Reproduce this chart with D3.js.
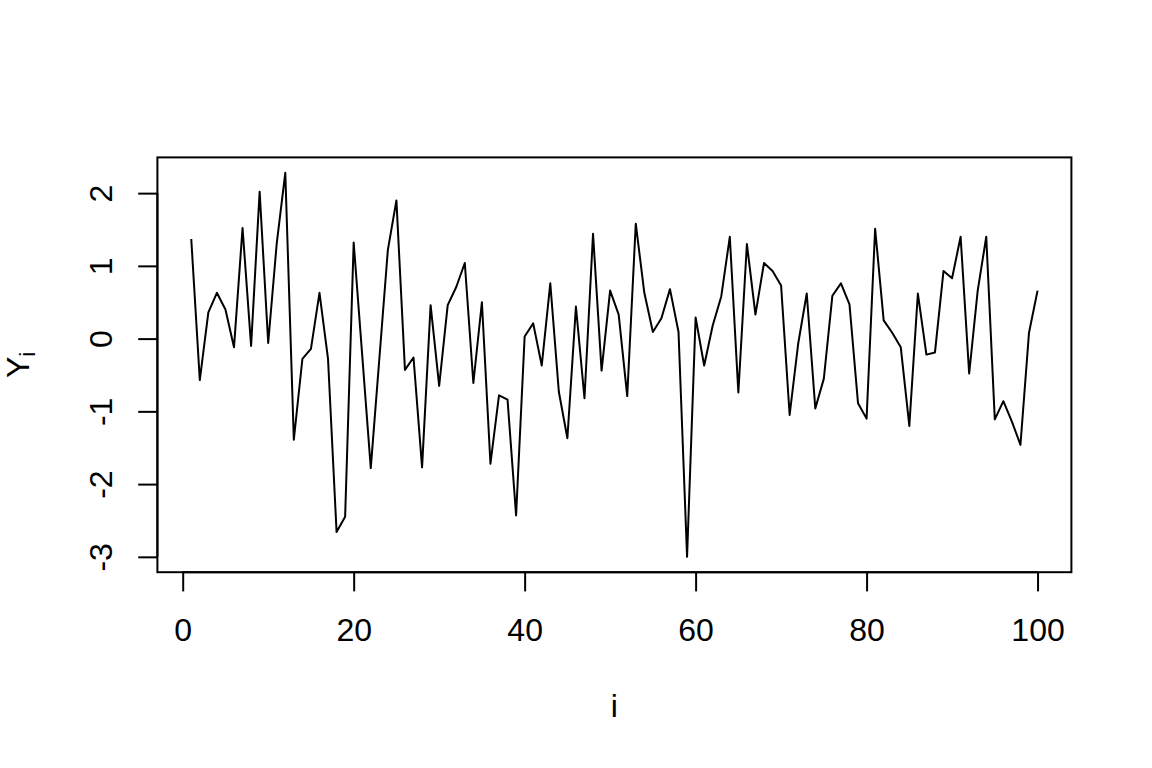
<!DOCTYPE html>
<html>
<head>
<meta charset="utf-8">
<script src="https://cdn.jsdelivr.net/npm/d3@7"></script>
<style>
  html, body { margin: 0; padding: 0; background: #fff; }
  svg text { font-family: "Liberation Sans", Arial, Helvetica, sans-serif; fill: #000; }
</style>
</head>
<body>
<svg id="chart" width="1152" height="768"></svg>
<script>
const yValues = [
  1.37, -0.57, 0.36, 0.63, 0.40, -0.12, 1.52, -0.10, 2.02, -0.06,
  1.31, 2.28, -1.39, -0.28, -0.14, 0.63, -0.28, -2.66, -2.45, 1.32,
  -0.23, -1.78, -0.28, 1.22, 1.90, -0.43, -0.26, -1.77, 0.46, -0.65,
  0.46, 0.71, 1.04, -0.61, 0.50, -1.72, -0.78, -0.84, -2.43, 0.03,
  0.21, -0.37, 0.76, -0.73, -1.37, 0.44, -0.82, 1.44, -0.44, 0.66,
  0.33, -0.79, 1.58, 0.63, 0.09, 0.28, 0.68, 0.09, -3.00, 0.29,
  -0.37, 0.18, 0.58, 1.40, -0.74, 1.30, 0.33, 1.04, 0.93, 0.73,
  -1.05, -0.07, 0.62, -0.96, -0.55, 0.59, 0.76, 0.47, -0.89, -1.10,
  1.51, 0.25, 0.08, -0.12, -1.20, 0.62, -0.22, -0.19, 0.93, 0.83,
  1.40, -0.48, 0.66, 1.40, -1.11, -0.86, -1.14, -1.46, 0.08, 0.66
];
const xIndex = yValues.map((_, k) => k + 1);
const xTicks = [0, 20, 40, 60, 80, 100];
const yTicks = [-3, -2, -1, 0, 1, 2];
const xLabel = "i";
const yLabelMain = "Y";
const yLabelSub = "i";

const svg = d3.select("#chart");
const L = 157.4, R = 1071.4, T = 157.4, B = 572.2;
const fs = 32;
const fmt = d => String(d);

const xr = d3.extent(xIndex), yr = d3.extent(yValues);
const xPad = (xr[1] - xr[0]) * 0.04, yPad = (yr[1] - yr[0]) * 0.04;
const x = d3.scaleLinear().domain([xr[0] - xPad, xr[1] + xPad]).range([L, R]);
const y = d3.scaleLinear().domain([yr[0] - yPad, yr[1] + yPad]).range([B, T]);

// Box
svg.append("rect").attr("x", L).attr("y", T).attr("width", R - L).attr("height", B - T)
  .attr("fill", "none").attr("stroke", "#000").attr("stroke-width", 2);

// X axis
const xAxis = svg.append("g").attr("transform", `translate(0,${B})`)
  .call(d3.axisBottom(x).tickValues(xTicks).tickSize(19.2).tickPadding(0).tickFormat(fmt));
xAxis.select(".domain").attr("d", `M${x(xTicks[0])},0H${x(xTicks[xTicks.length-1])}`).attr("stroke-width", 2);
xAxis.selectAll(".tick line").attr("stroke-width", 2);
xAxis.selectAll(".tick text").attr("font-size", fs).attr("dy", null).attr("y", 641.5 - B)
  .style("font-family", '"Liberation Sans", Arial, sans-serif').attr("fill", "#000");

// Y axis
const yAxis = svg.append("g").attr("transform", `translate(${L},0)`)
  .call(d3.axisLeft(y).tickValues(yTicks).tickSize(19.2).tickPadding(0).tickFormat(fmt));
yAxis.select(".domain").attr("d", `M0,${y(yTicks[0])}V${y(yTicks[yTicks.length-1])}`).attr("stroke-width", 2);
yAxis.selectAll(".tick line").attr("stroke-width", 2);
yAxis.selectAll(".tick text")
  .attr("x", null).attr("dy", null)
  .attr("text-anchor", "middle")
  .attr("font-size", fs)
  .style("font-family", '"Liberation Sans", Arial, sans-serif').attr("fill", "#000")
  .attr("transform", `translate(${111.7 - L},0) rotate(-90)`);

// Line
const line = d3.line().x((d, k) => x(xIndex[k])).y(d => y(d));
svg.append("path").datum(yValues).attr("d", line)
  .attr("fill", "none").attr("stroke", "#000").attr("stroke-width", 2).attr("stroke-linejoin", "round");

// Axis titles
svg.append("text").attr("x", (L + R) / 2).attr("y", 717).attr("text-anchor", "middle")
  .attr("font-size", fs).text(xLabel);

const yt = svg.append("text").attr("text-anchor", "middle").attr("font-size", fs)
  .attr("transform", `translate(28.5,${(T + B) / 2}) rotate(-90)`);
yt.append("tspan").text(yLabelMain);
yt.append("tspan").attr("font-size", fs * 0.7).attr("dy", 6).text(yLabelSub);
</script>
</body>
</html>
